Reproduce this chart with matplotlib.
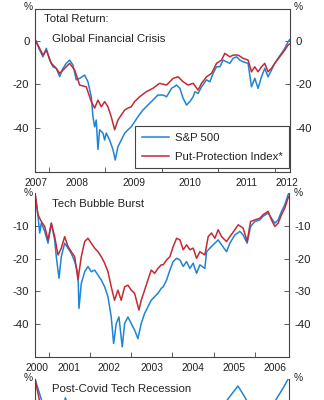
import matplotlib
matplotlib.use("Agg")
import matplotlib.pyplot as plt
import numpy as np

plt.rcParams['font.family'] = ['Liberation Sans', 'DejaVu Sans']

# ---------------- data (decimal year, total return %) ----------------
gfc_sp_t = [2007.765, 2007.835, 2007.894, 2007.952, 2008.012, 2008.071, 2008.129, 2008.189, 2008.248,
            2008.306, 2008.366, 2008.425, 2008.483, 2008.543, 2008.632, 2008.690, 2008.749, 2008.779,
            2008.809, 2008.837, 2008.867, 2008.897, 2008.956, 2008.986, 2009.014, 2009.074, 2009.133,
            2009.173, 2009.221, 2009.280, 2009.340, 2009.398, 2009.457, 2009.517, 2009.575, 2009.664,
            2009.752, 2009.841, 2009.929, 2010.023, 2010.083, 2010.172, 2010.260, 2010.319, 2010.377,
            2010.437, 2010.496, 2010.554, 2010.584, 2010.642, 2010.703, 2010.791, 2010.850, 2010.908,
            2010.968, 2011.027, 2011.085, 2011.145, 2011.204, 2011.262, 2011.322, 2011.381, 2011.439,
            2011.527, 2011.588, 2011.646, 2011.704, 2011.765, 2011.823, 2011.881, 2011.942, 2012.000,
            2012.058, 2012.119, 2012.177, 2012.235, 2012.262]
gfc_sp_v = [0, -4.3, -7.4, -3.5, -8.9, -12, -12.7, -16.5, -12.7,
            -10.4, -8.9, -11.2, -18, -17.3, -15.8, -18.9, -25.8, -35,
            -39.6, -36.5, -50, -41, -42.5, -45.7, -42.5, -45.7, -50,
            -54.9, -48.8, -45.7, -42.6, -41, -39.6, -37.3, -35, -31.9,
            -29.6, -27.3, -25, -25, -25.8, -21.9, -20.4, -21.9, -26.5,
            -29.6, -28, -25.8, -23.5, -24.2, -21.2, -18, -18.9, -15,
            -12, -12, -8.9, -9.7, -10.4, -8.1, -7.4, -8.9, -9.7,
            -10.4, -21.2, -17.3, -21.9, -16.6, -12.7, -16.6, -13.5, -10.4,
            -8.1, -5.8, -3.5, -0.5, 0.5]

gfc_pp_t = [2007.765, 2007.894, 2007.952, 2008.041, 2008.129, 2008.189, 2008.278, 2008.366, 2008.455,
            2008.543, 2008.660, 2008.749, 2008.809, 2008.867, 2008.926, 2008.986, 2009.044, 2009.103,
            2009.163, 2009.221, 2009.280, 2009.340, 2009.398, 2009.457, 2009.517, 2009.605, 2009.722,
            2009.841, 2009.959, 2010.083, 2010.200, 2010.288, 2010.377, 2010.465, 2010.554, 2010.642,
            2010.703, 2010.791, 2010.880, 2010.968, 2011.057, 2011.115, 2011.204, 2011.262, 2011.350,
            2011.439, 2011.527, 2011.588, 2011.646, 2011.704, 2011.765, 2011.823, 2011.881, 2011.942,
            2012.000, 2012.088, 2012.177, 2012.235, 2012.262]
gfc_pp_v = [0, -6.6, -4.3, -10.4, -12.7, -15, -12.7, -10.4, -13.5,
            -20.4, -21.2, -28, -31, -27.3, -30.4, -28, -30.4, -35,
            -41, -36.5, -34.2, -31.9, -31, -30.4, -28, -25.8, -23.5,
            -21.9, -19.6, -20.4, -17.3, -16.6, -18.9, -20.4, -19.6, -22.7,
            -19.6, -16.6, -15, -10.4, -8.9, -5.8, -7.4, -6.6, -6.6,
            -8.1, -8.9, -14.3, -12, -14.3, -12, -10.4, -14.3, -12.7,
            -10.4, -7.4, -4.3, -2, -1.5]

tech_sp_t = [2000.660, 2000.733, 2000.774, 2000.813, 2000.896, 2000.976, 2001.056, 2001.138, 2001.177,
             2001.243, 2001.299, 2001.381, 2001.461, 2001.541, 2001.624, 2001.704, 2001.728, 2001.784,
             2001.867, 2001.947, 2002.027, 2002.109, 2002.189, 2002.269, 2002.352, 2002.432, 2002.512,
             2002.570, 2002.633, 2002.699, 2002.779, 2002.837, 2002.917, 2002.998, 2003.080, 2003.160,
             2003.240, 2003.323, 2003.403, 2003.483, 2003.566, 2003.646, 2003.726, 2003.774, 2003.857,
             2003.937, 2004.017, 2004.100, 2004.180, 2004.260, 2004.342, 2004.422, 2004.502, 2004.585,
             2004.665, 2004.786, 2004.828, 2004.908, 2005.029, 2005.109, 2005.192, 2005.313, 2005.393,
             2005.515, 2005.636, 2005.716, 2005.813, 2005.896, 2006.000, 2006.121, 2006.201, 2006.323,
             2006.405, 2006.485, 2006.566, 2006.648, 2006.728, 2006.808, 2006.830]
tech_sp_v = [0, -7.1, -12.2, -9.2, -11.7, -15.3, -9.2, -14.3, -19.4,
             -26, -19.4, -15.3, -16.8, -18.4, -20.9, -24.5, -35.2, -27.6,
             -24, -22.4, -24, -23.5, -25, -26.5, -28.6, -31.6, -37.8,
             -45.9, -39.8, -37.8, -46.9, -39.8, -37.8, -39.8, -41.8, -44.4,
             -39.8, -36.7, -34.7, -32.7, -31.6, -30.6, -29.1, -28.6, -26.5,
             -23.5, -20.9, -19.9, -20.4, -22.4, -20.9, -23, -21.4, -24.5,
             -21.9, -23, -17.9, -16.8, -15.3, -14.3, -15.8, -17.9, -15.3,
             -12.8, -11.7, -12.8, -15.3, -10.2, -8.7, -8.2, -7.1, -6.1,
             -7.7, -9.2, -8.2, -5.6, -3.6, -0.5, 0]

tech_pp_t = [2000.660, 2000.733, 2000.813, 2000.896, 2000.976, 2001.056, 2001.138, 2001.218, 2001.299,
             2001.381, 2001.461, 2001.541, 2001.624, 2001.704, 2001.784, 2001.867, 2001.947, 2002.027,
             2002.109, 2002.189, 2002.269, 2002.352, 2002.432, 2002.512, 2002.592, 2002.674, 2002.754,
             2002.837, 2002.917, 2002.998, 2003.080, 2003.185, 2003.240, 2003.323, 2003.403, 2003.483,
             2003.566, 2003.646, 2003.726, 2003.774, 2003.857, 2003.937, 2004.017, 2004.100, 2004.180,
             2004.260, 2004.342, 2004.422, 2004.502, 2004.585, 2004.665, 2004.786, 2004.867, 2004.948,
             2005.029, 2005.109, 2005.192, 2005.313, 2005.393, 2005.515, 2005.596, 2005.716, 2005.813,
             2005.896, 2006.000, 2006.121, 2006.201, 2006.323, 2006.405, 2006.485, 2006.566, 2006.648,
             2006.728, 2006.808, 2006.830]
tech_pp_v = [0, -6.6, -8.7, -10.2, -14.3, -9.2, -13.3, -18.9, -16.8,
             -13.3, -16.3, -17.9, -19.4, -26.5, -19.4, -14.8, -13.8, -15.3,
             -16.8, -17.9, -19.4, -21.4, -24, -28.6, -32.7, -29.6, -32.7,
             -28.6, -28.1, -29.6, -30.6, -35.7, -32.7, -29.6, -26.5, -23.5,
             -24.5, -23, -21.9, -21.9, -20.4, -19.4, -16.3, -13.8, -14.3,
             -17.3, -15.8, -17.3, -16.8, -19.9, -17.9, -18.9, -13.3, -12.2,
             -13.8, -11.2, -13.3, -14.8, -13.3, -11.2, -9.7, -10.7, -14.8,
             -8.7, -8.2, -7.7, -6.6, -5.6, -8.2, -10.2, -9.2, -6.6,
             -4.6, -1.5, -1.0]

covid_sp_t = [2021.990, 2022.05, 2022.12, 2022.18, 2022.24, 2022.35, 2022.45, 2022.53, 2022.62,
              2022.78, 2022.90, 2023.00, 2023.10, 2023.20, 2023.35, 2023.50, 2023.60, 2023.66,
              2023.72, 2023.82, 2023.90, 2023.97, 2024.03, 2024.08]
covid_sp_v = [0, -5, -10, -12, -4, -14, -20, -23, -10,
              -25, -15, -19, -12, -15, -11, -7, -3.5, -1.5,
              -4, -10, -7, -4.5, -2, 0.3]
covid_pp_t = [2021.990, 2022.03, 2022.10, 2022.24, 2022.40, 2022.53, 2022.62, 2022.78, 2023.00,
              2023.30, 2023.60, 2023.72, 2023.82, 2023.98, 2024.08]
covid_pp_v = [0, -5, -9, -7, -15, -19, -11, -20, -17,
              -13, -7, -8, -11, -8, -6]

years_gfc = [2007, 2008, 2009, 2010, 2011, 2012]
years_tech = [2000, 2001, 2002, 2003, 2004, 2005, 2006]

BLUE = '#1f84d4'
RED = '#c42a35'
SPINE = '#444444'
TXT = '#222222'

W, H = 324, 400
fig = plt.figure(figsize=(W / 100, H / 100), dpi=100)


def add_ax(x0, x1, y0, y1):
    return fig.add_axes([x0 / W, 1 - y1 / H, (x1 - x0) / W, (y1 - y0) / H])


def style(ax, xlim, ylim, yticks, years, labelpos, top=True, labels=True):
    ax.set_xlim(*xlim)
    ax.set_ylim(*ylim)
    for s in ax.spines.values():
        s.set_color(SPINE)
        s.set_linewidth(0.8)
    ax.spines['top'].set_visible(top)
    ax.set_yticks(yticks)
    ax.set_yticklabels([str(v) for v in yticks] if labels else [])
    ax.tick_params(axis='y', which='major', direction='in', length=3.5, width=0.6,
                   left=True, right=True, labelleft=labels, labelright=labels,
                   labelsize=8.2, colors=SPINE, labelcolor=TXT, pad=4)
    ax.set_xticks([y for y in range(int(xlim[0]) + 1, int(xlim[1]) + 1)])
    ax.set_xticklabels([])
    if labels:
        ax.set_xticks(labelpos, minor=True)
        ax.set_xticklabels([str(y) for y in years], minor=True)
    ax.tick_params(axis='x', which='major', direction='in', length=3.5, width=0.6, colors=SPINE)
    ax.tick_params(axis='x', which='minor', length=0, labelsize=7.4, labelcolor=TXT, pad=4)


# Panel 1
ax1 = add_ax(35, 290, 9, 172)
ax1.plot(gfc_sp_t, gfc_sp_v, color=BLUE, lw=1.1, label='S&P 500')
ax1.plot(gfc_pp_t, gfc_pp_v, color=RED, lw=1.1, label='Put-Protection Index*')
style(ax1, (2007.752, 2012.27), (-60.4, 14.6), [0, -20, -40], years_gfc,
      [2007.77, 2008.5, 2009.5, 2010.5, 2011.5, 2012.21], top=True)
leg = ax1.legend(loc='lower right', bbox_to_anchor=(0.997, 0.022), borderaxespad=0,
                 fancybox=False, edgecolor=SPINE, fontsize=8.2, handlelength=2.4,
                 handletextpad=0.5, borderpad=0.6, labelspacing=0.75, framealpha=1)
leg.get_frame().set_linewidth(0.8)
for t in leg.get_texts():
    t.set_color(TXT)

# Panel 2
ax2 = add_ax(35, 289, 193, 357)
ax2.plot(tech_sp_t, tech_sp_v, color=BLUE, lw=1.1)
ax2.plot(tech_pp_t, tech_pp_v, color=RED, lw=1.1)
style(ax2, (2000.66, 2006.83), (-50, 0), [-10, -20, -30, -40], years_tech,
      [2000.70, 2001.49, 2002.46, 2003.5, 2004.5, 2005.5, 2006.5], top=False)

# Panel 3 (cut off at bottom of the figure; its tick labels fall outside the picture)
ax3 = add_ax(35, 289, 379, 543)
ax3.plot(covid_sp_t, covid_sp_v, color=BLUE, lw=1.1)
ax3.plot(covid_pp_t, covid_pp_v, color=RED, lw=1.1)
style(ax3, (2021.99, 2024.08), (-35, 0), [-10, -20, -30], [], [], top=False, labels=False)

# Text annotations
def ftext(px, py, s, **kw):
    fig.text(px / W, 1 - py / H, s, color=TXT, **kw)

ftext(44, 19, 'Total Return:', fontsize=8.2, va='center', ha='left')
ftext(52, 39, 'Global Financial Crisis', fontsize=8.2, va='center', ha='left')
ftext(52, 204, 'Tech Bubble Burst', fontsize=8.2, va='center', ha='left')
ftext(52, 389, 'Post-Covid Tech Recession', fontsize=8.2, va='center', ha='left')
for py in (7, 193, 378):
    ftext(28, py, '%', fontsize=7.4, va='center', ha='center')
    ftext(298, py, '%', fontsize=7.4, va='center', ha='center')

fig.savefig('out.png', dpi=100)
